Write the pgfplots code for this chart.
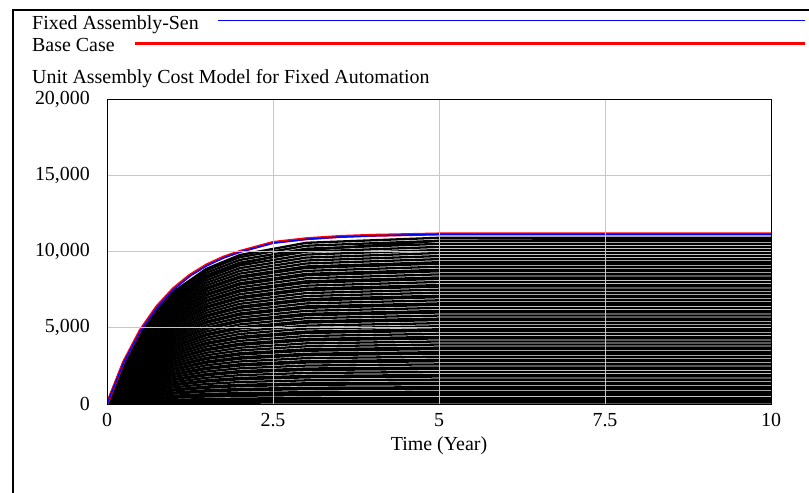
\documentclass[border=0pt]{standalone}
\usepackage{pgfplots}
\pgfplotsset{compat=1.18}
\usepackage{fontspec}
\setmainfont{Liberation Serif}

\begin{document}
\begin{tikzpicture}[font=\fontsize{20}{24}\selectfont]
\path[use as bounding box] (0bp,0bp) rectangle (809bp,-493bp);
% outer frame (top and left only)
\draw[line width=2bp] (13bp,-493bp) -- (13bp,-10bp) -- (809bp,-10bp);

% legend and title
\node[anchor=base west, inner sep=0] at (32bp,-29bp) {Fixed Assembly-Sen};
\draw[blue, line width=1.5bp] (218bp,-20.7bp) -- (805bp,-20.7bp);
\node[anchor=base west, inner sep=0] at (32bp,-51.7bp) {Base Case};
\draw[red, line width=2.5bp] (135bp,-43.7bp) -- (805bp,-43.7bp);
\node[anchor=base west, inner sep=0] at (32bp,-83.3bp) {Unit Assembly Cost Model for Fixed Automation};

\begin{axis}[
  at={(107bp,-404bp)}, anchor=south west,
  width=664bp, height=305bp, scale only axis,
  xmin=0, xmax=10, ymin=0, ymax=20000,
  xtick={0,2.5,5,7.5,10}, xticklabels={0,2.5,5,7.5,10},
  ytick={0,5000,10000,15000,20000},
  yticklabels={0,{5,000},{10,000},{15,000},{20,000}},
  scaled y ticks=false, scaled x ticks=false,
  major tick length=0,
  grid=major,
  grid style={black!22, line width=1bp},
  axis line style={black, line width=0.9bp},
  axis on top,
  tick label style={font=\fontsize{20}{24}\selectfont, inner sep=0},
  yticklabel style={anchor=east, xshift=-17bp},
  xticklabel style={anchor=north, yshift=-9bp},
  xlabel={Time (Year)},
  xlabel style={at={(axis description cs:0.5,0)}, anchor=north, inner sep=0, yshift=-32bp, font=\fontsize{20}{24}\selectfont},
  blk/.style={black, line width=2.3bp},
]
% sensitivity runs
\addplot[blk] coordinates {(0,0)(0.25,25)(0.5,43)(0.75,57)(1,68)(1.5,82)(2,90)(3,97)(5,100)(10,100)};
\addplot[blk] coordinates {(0,0)(0.25,50)(0.5,86)(0.75,114)(1,136)(1.5,164)(2,180)(3,194)(5,200)(10,200)};
\addplot[blk] coordinates {(0,0)(0.25,75)(0.5,129)(0.75,171)(1,204)(1.5,246)(2,270)(3,291)(5,300)(10,300)};
\addplot[blk] coordinates {(0,0)(0.25,100)(0.5,172)(0.75,228)(1,272)(1.5,328)(2,360)(3,388)(5,400)(10,400)};
\addplot[blk] coordinates {(0,0)(0.25,150)(0.5,258)(0.75,342)(1,408)(1.5,492)(2,540)(3,582)(5,600)(10,600)};
\addplot[blk] coordinates {(0,0)(0.25,175)(0.5,301)(0.75,399)(1,476)(1.5,574)(2,630)(3,679)(5,700)(10,700)};
\addplot[blk] coordinates {(0,0)(0.25,200)(0.5,344)(0.75,456)(1,544)(1.5,656)(2,720)(3,776)(5,800)(10,800)};
\addplot[blk] coordinates {(0,0)(0.25,250)(0.5,430)(0.75,570)(1,680)(1.5,820)(2,900)(3,970)(5,1000)(10,1000)};
\addplot[blk] coordinates {(0,0)(0.25,275)(0.5,473)(0.75,627)(1,748)(1.5,902)(2,990)(3,1067)(5,1100)(10,1100)};
\addplot[blk] coordinates {(0,0)(0.25,325)(0.5,559)(0.75,741)(1,884)(1.5,1066)(2,1170)(3,1261)(5,1300)(10,1300)};
\addplot[blk] coordinates {(0,0)(0.25,350)(0.5,602)(0.75,798)(1,952)(1.5,1148)(2,1260)(3,1358)(5,1400)(10,1400)};
\addplot[blk] coordinates {(0,0)(0.25,400)(0.5,688)(0.75,912)(1,1088)(1.5,1312)(2,1440)(3,1552)(5,1600)(10,1600)};
\addplot[blk] coordinates {(0,0)(0.25,450)(0.5,774)(0.75,1026)(1,1224)(1.5,1476)(2,1620)(3,1746)(5,1800)(10,1800)};
\addplot[blk] coordinates {(0,0)(0.25,475)(0.5,817)(0.75,1083)(1,1292)(1.5,1558)(2,1710)(3,1843)(5,1900)(10,1900)};
\addplot[blk] coordinates {(0,0)(0.25,525)(0.5,903)(0.75,1197)(1,1428)(1.5,1722)(2,1890)(3,2037)(5,2100)(10,2100)};
\addplot[blk] coordinates {(0,0)(0.25,575)(0.5,989)(0.75,1311)(1,1564)(1.5,1886)(2,2070)(3,2231)(5,2300)(10,2300)};
\addplot[blk] coordinates {(0,0)(0.25,600)(0.5,1032)(0.75,1368)(1,1632)(1.5,1968)(2,2160)(3,2328)(5,2400)(10,2400)};
\addplot[blk] coordinates {(0,0)(0.25,650)(0.5,1118)(0.75,1482)(1,1768)(1.5,2132)(2,2340)(3,2522)(5,2600)(10,2600)};
\addplot[blk] coordinates {(0,0)(0.25,700)(0.5,1204)(0.75,1596)(1,1904)(1.5,2296)(2,2520)(3,2716)(5,2800)(10,2800)};
\addplot[blk] coordinates {(0,0)(0.25,725)(0.5,1247)(0.75,1653)(1,1972)(1.5,2378)(2,2610)(3,2813)(5,2900)(10,2900)};
\addplot[blk] coordinates {(0,0)(0.25,775)(0.5,1333)(0.75,1767)(1,2108)(1.5,2542)(2,2790)(3,3007)(5,3100)(10,3100)};
\addplot[blk] coordinates {(0,0)(0.25,825)(0.5,1419)(0.75,1881)(1,2244)(1.5,2706)(2,2970)(3,3201)(5,3300)(10,3300)};
\addplot[blk] coordinates {(0,0)(0.25,850)(0.5,1462)(0.75,1938)(1,2312)(1.5,2788)(2,3060)(3,3298)(5,3400)(10,3400)};
\addplot[blk] coordinates {(0,0)(0.25,900)(0.5,1548)(0.75,2052)(1,2448)(1.5,2952)(2,3240)(3,3492)(5,3600)(10,3600)};
\addplot[blk] coordinates {(0,0)(0.25,925)(0.5,1591)(0.75,2109)(1,2516)(1.5,3034)(2,3330)(3,3589)(5,3700)(10,3700)};
\addplot[blk] coordinates {(0,0)(0.25,975)(0.5,1677)(0.75,2223)(1,2652)(1.5,3198)(2,3510)(3,3783)(5,3900)(10,3900)};
\addplot[blk] coordinates {(0,0)(0.25,1025)(0.5,1763)(0.75,2337)(1,2788)(1.5,3362)(2,3690)(3,3977)(5,4100)(10,4100)};
\addplot[blk] coordinates {(0,0)(0.25,1075)(0.5,1849)(0.75,2451)(1,2924)(1.5,3526)(2,3870)(3,4171)(5,4300)(10,4300)};
\addplot[blk] coordinates {(0,0)(0.25,1100)(0.5,1892)(0.75,2508)(1,2992)(1.5,3608)(2,3960)(3,4268)(5,4400)(10,4400)};
\addplot[blk] coordinates {(0,0)(0.25,1150)(0.5,1978)(0.75,2622)(1,3128)(1.5,3772)(2,4140)(3,4462)(5,4600)(10,4600)};
\addplot[blk] coordinates {(0,0)(0.25,1200)(0.5,2064)(0.75,2736)(1,3264)(1.5,3936)(2,4320)(3,4656)(5,4800)(10,4800)};
\addplot[blk] coordinates {(0,0)(0.25,1225)(0.5,2107)(0.75,2793)(1,3332)(1.5,4018)(2,4410)(3,4753)(5,4900)(10,4900)};
\addplot[blk] coordinates {(0,0)(0.25,1275)(0.5,2193)(0.75,2907)(1,3468)(1.5,4182)(2,4590)(3,4947)(5,5100)(10,5100)};
\addplot[blk] coordinates {(0,0)(0.25,1325)(0.5,2279)(0.75,3021)(1,3604)(1.5,4346)(2,4770)(3,5141)(5,5300)(10,5300)};
\addplot[blk] coordinates {(0,0)(0.25,1375)(0.5,2365)(0.75,3135)(1,3740)(1.5,4510)(2,4950)(3,5335)(5,5500)(10,5500)};
\addplot[blk] coordinates {(0,0)(0.25,1400)(0.5,2408)(0.75,3192)(1,3808)(1.5,4592)(2,5040)(3,5432)(5,5600)(10,5600)};
\addplot[blk] coordinates {(0,0)(0.25,1450)(0.5,2494)(0.75,3306)(1,3944)(1.5,4756)(2,5220)(3,5626)(5,5800)(10,5800)};
\addplot[blk] coordinates {(0,0)(0.25,1500)(0.5,2580)(0.75,3420)(1,4080)(1.5,4920)(2,5400)(3,5820)(5,6000)(10,6000)};
\addplot[blk] coordinates {(0,0)(0.25,1525)(0.5,2623)(0.75,3477)(1,4148)(1.5,5002)(2,5490)(3,5917)(5,6100)(10,6100)};
\addplot[blk] coordinates {(0,0)(0.25,1575)(0.5,2709)(0.75,3591)(1,4284)(1.5,5166)(2,5670)(3,6111)(5,6300)(10,6300)};
\addplot[blk] coordinates {(0,0)(0.25,1625)(0.5,2795)(0.75,3705)(1,4420)(1.5,5330)(2,5850)(3,6305)(5,6500)(10,6500)};
\addplot[blk] coordinates {(0,0)(0.25,1650)(0.5,2838)(0.75,3762)(1,4488)(1.5,5412)(2,5940)(3,6402)(5,6600)(10,6600)};
\addplot[blk] coordinates {(0,0)(0.25,1700)(0.5,2924)(0.75,3876)(1,4624)(1.5,5576)(2,6120)(3,6596)(5,6800)(10,6800)};
\addplot[blk] coordinates {(0,0)(0.25,1750)(0.5,3010)(0.75,3990)(1,4760)(1.5,5740)(2,6300)(3,6790)(5,7000)(10,7000)};
\addplot[blk] coordinates {(0,0)(0.25,1775)(0.5,3053)(0.75,4047)(1,4828)(1.5,5822)(2,6390)(3,6887)(5,7100)(10,7100)};
\addplot[blk] coordinates {(0,0)(0.25,1825)(0.5,3139)(0.75,4161)(1,4964)(1.5,5986)(2,6570)(3,7081)(5,7300)(10,7300)};
\addplot[blk] coordinates {(0,0)(0.25,1875)(0.5,3225)(0.75,4275)(1,5100)(1.5,6150)(2,6750)(3,7275)(5,7500)(10,7500)};
\addplot[blk] coordinates {(0,0)(0.25,1925)(0.5,3311)(0.75,4389)(1,5236)(1.5,6314)(2,6930)(3,7469)(5,7700)(10,7700)};
\addplot[blk] coordinates {(0,0)(0.25,1950)(0.5,3354)(0.75,4446)(1,5304)(1.5,6396)(2,7020)(3,7566)(5,7800)(10,7800)};
\addplot[blk] coordinates {(0,0)(0.25,2000)(0.5,3440)(0.75,4560)(1,5440)(1.5,6560)(2,7200)(3,7760)(5,8000)(10,8000)};
\addplot[blk] coordinates {(0,0)(0.25,2050)(0.5,3526)(0.75,4674)(1,5576)(1.5,6724)(2,7380)(3,7954)(5,8200)(10,8200)};
\addplot[blk] coordinates {(0,0)(0.25,2075)(0.5,3569)(0.75,4731)(1,5644)(1.5,6806)(2,7470)(3,8051)(5,8300)(10,8300)};
\addplot[blk] coordinates {(0,0)(0.25,2125)(0.5,3655)(0.75,4845)(1,5780)(1.5,6970)(2,7650)(3,8245)(5,8500)(10,8500)};
\addplot[blk] coordinates {(0,0)(0.25,2175)(0.5,3741)(0.75,4959)(1,5916)(1.5,7134)(2,7830)(3,8439)(5,8700)(10,8700)};
\addplot[blk] coordinates {(0,0)(0.25,2200)(0.5,3784)(0.75,5016)(1,5984)(1.5,7216)(2,7920)(3,8536)(5,8800)(10,8800)};
\addplot[blk] coordinates {(0,0)(0.25,2250)(0.5,3870)(0.75,5130)(1,6120)(1.5,7380)(2,8100)(3,8730)(5,9000)(10,9000)};
\addplot[blk] coordinates {(0,0)(0.25,2300)(0.5,3956)(0.75,5244)(1,6256)(1.5,7544)(2,8280)(3,8924)(5,9200)(10,9200)};
\addplot[blk] coordinates {(0,0)(0.25,2325)(0.5,3999)(0.75,5301)(1,6324)(1.5,7626)(2,8370)(3,9021)(5,9300)(10,9300)};
\addplot[blk] coordinates {(0,0)(0.25,2375)(0.5,4085)(0.75,5415)(1,6460)(1.5,7790)(2,8550)(3,9215)(5,9500)(10,9500)};
\addplot[blk] coordinates {(0,0)(0.25,2425)(0.5,4171)(0.75,5529)(1,6596)(1.5,7954)(2,8730)(3,9409)(5,9700)(10,9700)};
\addplot[blk] coordinates {(0,0)(0.25,2475)(0.5,4257)(0.75,5643)(1,6732)(1.5,8118)(2,8910)(3,9603)(5,9900)(10,9900)};
\addplot[blk] coordinates {(0,0)(0.25,2525)(0.5,4343)(0.75,5757)(1,6868)(1.5,8282)(2,9090)(3,9797)(5,10100)(10,10100)};
\addplot[blk] coordinates {(0,0)(0.25,2575)(0.5,4429)(0.75,5871)(1,7004)(1.5,8446)(2,9270)(3,9991)(5,10300)(10,10300)};
\addplot[blk] coordinates {(0,0)(0.25,2625)(0.5,4515)(0.75,5985)(1,7140)(1.5,8610)(2,9450)(3,10185)(5,10500)(10,10500)};
\addplot[blk] coordinates {(0,0)(0.25,2675)(0.5,4601)(0.75,6099)(1,7276)(1.5,8774)(2,9630)(3,10379)(5,10700)(10,10700)};
\addplot[blk] coordinates {(0,0)(0.25,2500)(0.5,4400)(0.75,5800)(1,6900)(1.5,8300)(2,9200)(3,10100)(5,10700)(10,10800)};
\addplot[blk] coordinates {(0,0)(0.25,2700)(0.5,4690)(0.75,6210)(1,7360)(1.5,8870)(2,9770)(3,10570)(5,10900)(10,10900)};

% base case
\addplot[red, line width=3bp] coordinates {
  (0,0)(0.25,2754)(0.5,4828)(0.75,6389)(1,7571)(1.25,8452)(1.5,9121)(1.75,9622)
  (2,10002)(2.5,10593)(3,10838)(3.5,10983)(4,11061)(4.5,11105)(5,11150)(10,11150)};
% fixed assembly sensitivity
\addplot[blue, line width=1.5bp] coordinates {
  (0,0)(0.25,2700)(0.5,4760)(0.75,6320)(1,7500)(1.25,8390)(1.5,9060)(1.75,9570)
  (2,9960)(2.5,10550)(3,10800)(3.5,10950)(4,11030)(4.5,11080)(5,11120)(10,11120)};
\end{axis}
\end{tikzpicture}
\end{document}
